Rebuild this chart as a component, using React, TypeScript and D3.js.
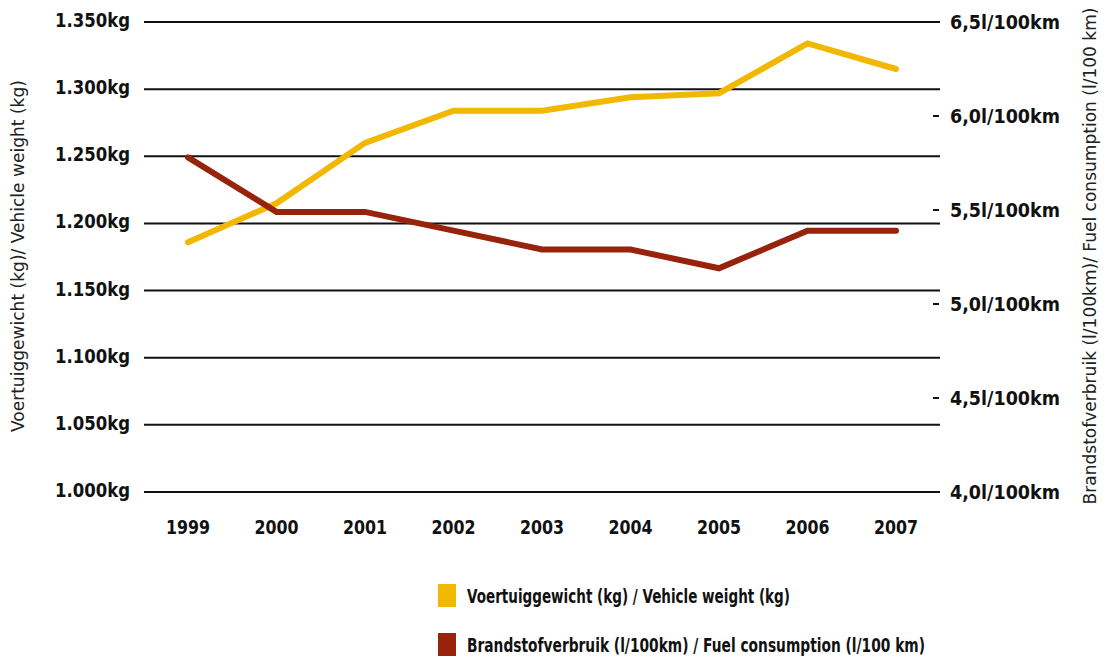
import React from "react";
import * as d3 from "d3";

const years = ["1999", "2000", "2001", "2002", "2003", "2004", "2005", "2006", "2007"];
const vehicleWeight = [1186, 1215, 1260, 1284, 1284, 1294, 1297, 1334, 1315];
const fuelConsumption = [5.78, 5.49, 5.49, 5.39, 5.29, 5.29, 5.19, 5.39, 5.39];
const leftTicks = [1000, 1050, 1100, 1150, 1200, 1250, 1300, 1350];
const rightTicks = [4.0, 4.5, 5.0, 5.5, 6.0, 6.5];
const leftTickLabels = ["1.000kg", "1.050kg", "1.100kg", "1.150kg", "1.200kg", "1.250kg", "1.300kg", "1.350kg"];
const rightTickLabels = ["4,0l/100km", "4,5l/100km", "5,0l/100km", "5,5l/100km", "6,0l/100km", "6,5l/100km"];
const legendLabels = [
  "Voertuiggewicht (kg) / Vehicle weight (kg)",
  "Brandstofverbruik (l/100km) / Fuel consumption (l/100 km)",
];
const leftTitle = "Voertuiggewicht (kg)/ Vehicle weight (kg)";
const rightTitle = "Brandstofverbruik (l/100km)/ Fuel consumption (l/100 km)";

const YELLOW = "#F2B800";
const RED = "#98230B";
const FONT = "'Liberation Sans Narrow', 'DejaVu Sans Condensed', 'Open Sans', sans-serif";

export default function App() {
  const W = 1108;
  const H = 660;
  const gridX0 = 144;
  const gridX1 = 940;
  const x = d3.scalePoint<string>().domain(years).range([188, 896]);
  const yL = d3.scaleLinear().domain([1000, 1350]).range([492, 22]);
  const yR = d3.scaleLinear().domain([4.0, 6.5]).range([492, 22]);

  const lineW = d3
    .line<number>()
    .x((_, i) => x(years[i]) as number)
    .y((d) => yL(d));
  const lineF = d3
    .line<number>()
    .x((_, i) => x(years[i]) as number)
    .y((d) => yR(d));

  return (
    <svg
      width={W}
      height={H}
      style={{ position: "absolute", left: 0, top: 0, background: "#fff" }}
      fontFamily={FONT}
    >
      {leftTicks.map((t, i) => (
        <g key={t}>
          <line x1={gridX0} x2={gridX1} y1={yL(t)} y2={yL(t)} stroke="#111" strokeWidth={2} />
          <text
            x={130}
            y={yL(t) - 2}
            textAnchor="end"
            dominantBaseline="central"
            fontSize={20}
            fontWeight="bold"
            fill="#111"
            textLength={75}
            lengthAdjust="spacingAndGlyphs"
          >
            {leftTickLabels[i]}
          </text>
        </g>
      ))}

      {rightTicks.map((t, i) => (
        <g key={t}>
          <line x1={933} x2={939} y1={yR(t)} y2={yR(t)} stroke="#111" strokeWidth={2} />
          <text
            x={950}
            y={yR(t)}
            textAnchor="start"
            dominantBaseline="central"
            fontSize={20}
            fontWeight="bold"
            fill="#111"
            textLength={110}
            lengthAdjust="spacingAndGlyphs"
          >
            {rightTickLabels[i]}
          </text>
        </g>
      ))}

      {years.map((yr) => (
        <text
          key={yr}
          x={x(yr)}
          y={527}
          textAnchor="middle"
          dominantBaseline="central"
          fontSize={20}
          fontWeight="bold"
          fill="#111"
          textLength={44}
          lengthAdjust="spacingAndGlyphs"
        >
          {yr}
        </text>
      ))}

      <path d={lineW(vehicleWeight) || ""} fill="none" stroke={YELLOW} strokeWidth={6} strokeLinecap="round" strokeLinejoin="miter" />
      <path d={lineF(fuelConsumption) || ""} fill="none" stroke={RED} strokeWidth={6} strokeLinecap="round" strokeLinejoin="miter" />

      <text
        transform="translate(18,256) rotate(-90)"
        textAnchor="middle"
        dominantBaseline="central"
        fontSize={17}
        fill="#222"
        textLength={352}
        lengthAdjust="spacingAndGlyphs"
      >
        {leftTitle}
      </text>
      <text
        transform="translate(1090,256) rotate(-90)"
        textAnchor="middle"
        dominantBaseline="central"
        fontSize={17}
        fill="#222"
        textLength={497}
        lengthAdjust="spacingAndGlyphs"
      >
        {rightTitle}
      </text>

      {legendLabels.map((lab, i) => (
        <g key={lab} transform={`translate(438, ${584 + i * 49})`}>
          <rect x={0} y={0} width={18} height={23} fill={i === 0 ? YELLOW : RED} />
          <text
            x={29}
            y={12}
            dominantBaseline="central"
            fontSize={20}
            fontWeight="bold"
            fill="#111"
            textLength={i === 0 ? 323 : 458}
            lengthAdjust="spacingAndGlyphs"
          >
            {lab}
          </text>
        </g>
      ))}
    </svg>
  );
}
